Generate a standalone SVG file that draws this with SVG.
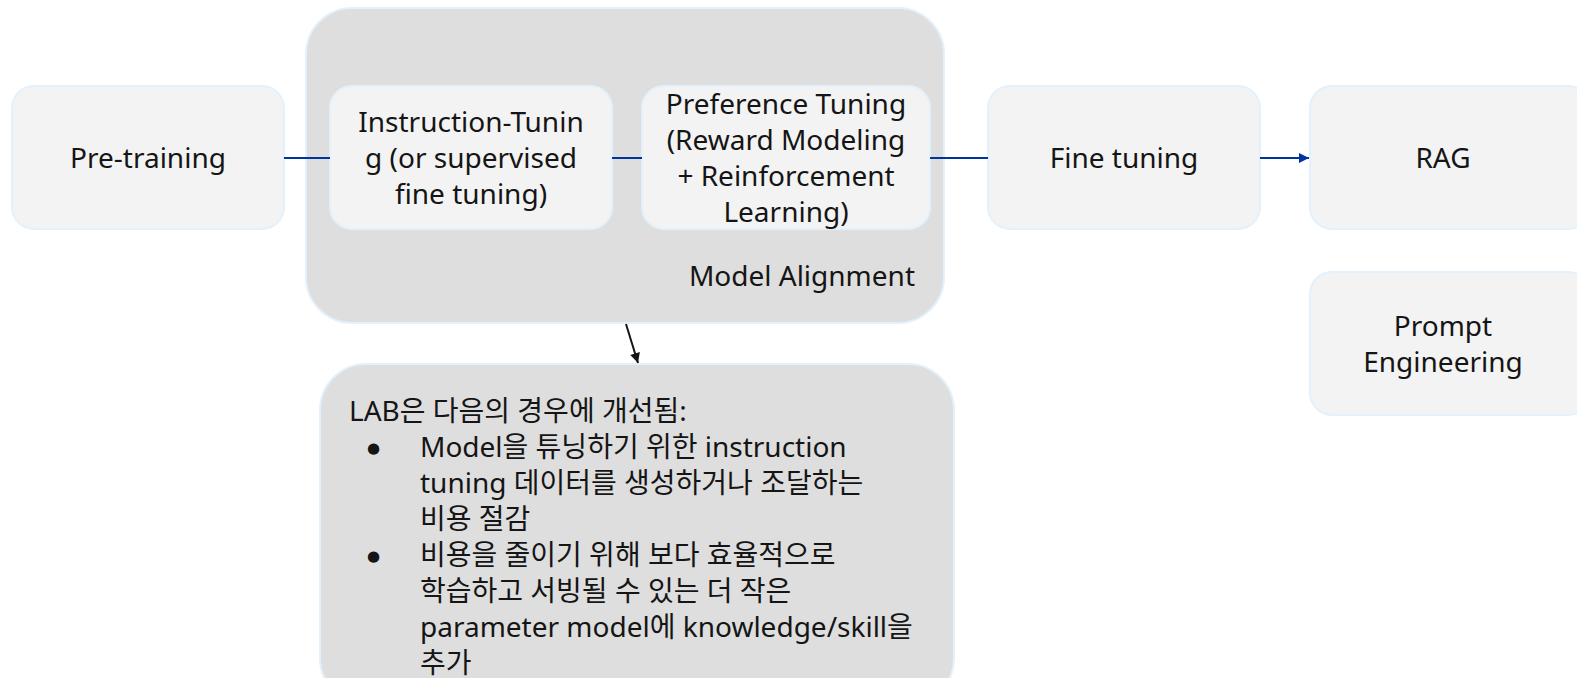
<svg xmlns="http://www.w3.org/2000/svg" width="1577" height="678" viewBox="0 0 1577 678">
  <style>
    .box { fill: #f3f3f3; stroke: #e3f1fc; stroke-width: 2; }
    .group { fill: #dedede; stroke: #e3f1fc; stroke-width: 2; }
    .lbl { font-family: "Noto Sans", "Noto Sans CJK KR", sans-serif; font-size: 28px; fill: #151515; }
    .bullet { font-family: "Noto Sans", "DejaVu Sans", sans-serif; font-size: 15px; fill: #151515; }
    .mid { text-anchor: middle; }
    .flow { stroke: #0033a0; stroke-width: 2; fill: none; }
    .note { stroke: #151515; stroke-width: 2; fill: none; }
  </style>
  <defs>
    <marker id="arrow-blue" viewBox="0 0 10 10" refX="10" refY="5" markerWidth="6" markerHeight="5" orient="auto" markerUnits="strokeWidth">
      <path d="M0,0 L10,5 L0,10 z" fill="#0033a0"/>
    </marker>
    <marker id="arrow-black" viewBox="0 0 10 10" refX="10" refY="5" markerWidth="6.5" markerHeight="5" orient="auto" markerUnits="strokeWidth">
      <path d="M0,0 L10,5 L0,10 z" fill="#151515"/>
    </marker>
  </defs>

  <rect width="1577" height="678" fill="#ffffff"/>

  <!-- Model Alignment container -->
  <g id="model-alignment">
    <rect class="group" x="306" y="8" width="638" height="315" rx="46" ry="46"/>
    <text class="lbl" x="915" y="286" text-anchor="end">Model Alignment</text>
  </g>

  <!-- LAB note -->
  <g id="lab-note">
    <rect class="group" x="320" y="364" width="634" height="340" rx="46" ry="46"/>
    <text class="lbl" x="349" y="421">LAB은 다음의 경우에 개선됨:</text>
    <text class="bullet" x="367" y="453">●</text>
    <text class="lbl" x="420" y="457">Model을 튜닝하기 위한 instruction</text>
    <text class="lbl" x="420" y="493">tuning 데이터를 생성하거나 조달하는</text>
    <text class="lbl" x="420" y="529">비용 절감</text>
    <text class="bullet" x="367" y="561">●</text>
    <text class="lbl" x="420" y="565">비용을 줄이기 위해 보다 효율적으로</text>
    <text class="lbl" x="420" y="601">학습하고 서빙될 수 있는 더 작은</text>
    <text class="lbl" x="420" y="637">parameter model에 knowledge/skill을</text>
    <text class="lbl" x="420" y="673">추가</text>
  </g>

  <g id="pre-training">
    <rect class="box" x="12" y="86" width="272" height="143" rx="22" ry="22"/>
    <text class="lbl mid" x="148" y="168">Pre-training</text>
  </g>

  <g id="instruction-tuning">
    <rect class="box" x="330" y="86" width="282" height="143" rx="22" ry="22"/>
    <text class="lbl mid" x="471" y="132">Instruction-Tunin</text>
    <text class="lbl mid" x="471" y="168">g (or supervised</text>
    <text class="lbl mid" x="471" y="204">fine tuning)</text>
  </g>

  <g id="preference-tuning">
    <rect class="box" x="642" y="86" width="288" height="143" rx="22" ry="22"/>
    <text class="lbl mid" x="786" y="114">Preference Tuning</text>
    <text class="lbl mid" x="786" y="150">(Reward Modeling</text>
    <text class="lbl mid" x="786" y="186">+ Reinforcement</text>
    <text class="lbl mid" x="786" y="222">Learning)</text>
  </g>

  <g id="fine-tuning">
    <rect class="box" x="988" y="86" width="272" height="143" rx="22" ry="22"/>
    <text class="lbl mid" x="1124" y="168">Fine tuning</text>
  </g>

  <g id="rag">
    <rect class="box" x="1310" y="86" width="280" height="143" rx="22" ry="22"/>
    <text class="lbl mid" x="1443" y="168">RAG</text>
  </g>

  <g id="prompt-engineering">
    <rect class="box" x="1310" y="272" width="280" height="143" rx="22" ry="22"/>
    <text class="lbl mid" x="1443" y="336">Prompt</text>
    <text class="lbl mid" x="1443" y="372">Engineering</text>
  </g>

  <!-- Connectors -->
  <g id="connectors">
    <line class="flow" x1="284" y1="158" x2="330" y2="158"/>
    <line class="flow" x1="612" y1="158" x2="642" y2="158"/>
    <line class="flow" x1="930" y1="158" x2="988" y2="158"/>
    <line class="flow" x1="1260" y1="158" x2="1309" y2="158" marker-end="url(#arrow-blue)"/>
    <line class="note" x1="626" y1="324" x2="638" y2="363" marker-end="url(#arrow-black)"/>
  </g>
</svg>
